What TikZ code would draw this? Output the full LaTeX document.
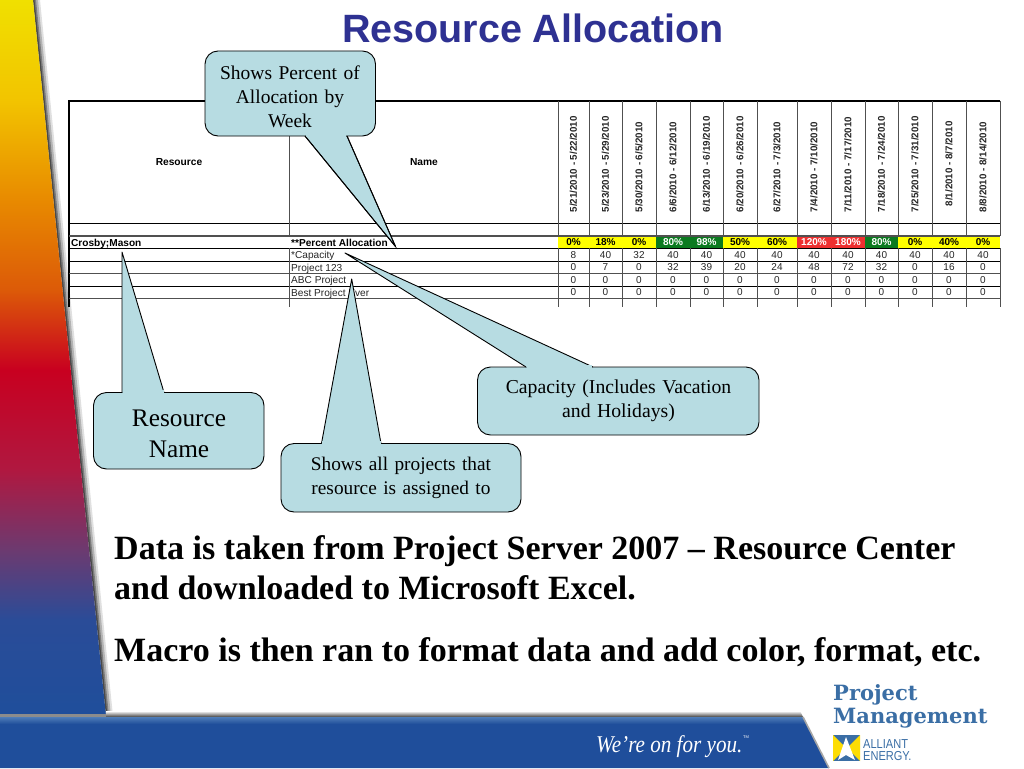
\documentclass[tikz,border=0pt]{standalone}
\usepackage{fontspec}
\setmainfont{Liberation Serif}
\setsansfont{Liberation Sans}
\newfontfamily\logofont{DejaVu Serif}
\usetikzlibrary{calc}
\definecolor{calloutfill}{HTML}{B7DCE2}
\definecolor{titleblue}{HTML}{2E3192}
\definecolor{barblue}{HTML}{1F4E9B}
\definecolor{barlight}{HTML}{4F7DB8}
\definecolor{logoblue}{HTML}{3A6EA5}
\definecolor{cellyellow}{HTML}{FFFF00}
\definecolor{cellgreen}{HTML}{0B7A1F}
\definecolor{cellred}{HTML}{EE3030}
\definecolor{gridgrey}{HTML}{505050}
\definecolor{sa}{HTML}{F0E000}
\definecolor{sb}{HTML}{F2C400}
\definecolor{sc}{HTML}{E88A00}
\definecolor{sd}{HTML}{DC5A08}
\definecolor{se}{HTML}{C80020}
\definecolor{sf}{HTML}{B01840}
\definecolor{sg}{HTML}{6C3A70}
\definecolor{sh}{HTML}{2A4C98}
\tikzset{
  x=1pt,y=-1pt,
  callout/.style={draw=black,fill=calloutfill,line width=0.9pt,line join=round},
  calltext/.style={font=\rmfamily,align=center,text=black,inner sep=0pt},
  hline/.style={draw=black,line width=0.9pt},
  gline/.style={draw=gridgrey,line width=1.1pt},
  vline/.style={draw=gridgrey,line width=0.9pt},
  celltext/.style={font=\sffamily\fontsize{10}{10}\selectfont,text=black!85,inner sep=0pt},
  pcttext/.style={font=\sffamily\bfseries\fontsize{10}{10}\selectfont,inner sep=0pt},
  datetext/.style={font=\sffamily\bfseries\fontsize{9.8}{10}\selectfont,rotate=90,inner sep=0pt,anchor=west,text=black!85},
  headtext/.style={font=\sffamily\bfseries\fontsize{10.2}{10}\selectfont,inner sep=0pt},
  rowhead/.style={font=\sffamily\bfseries\fontsize{10.1}{10}\selectfont,anchor=base west,inner sep=0pt},
  rowtext/.style={font=\sffamily\fontsize{10.1}{10}\selectfont,anchor=base west,inner sep=0pt,text=black!85},
  bodytext/.style={font=\rmfamily\bfseries\fontsize{34}{38}\selectfont,anchor=base west,inner sep=0pt,text=black},
  logotext/.style={font=\logofont\bfseries\fontsize{21}{24}\selectfont,text=logoblue,anchor=base west,inner sep=0pt},
  alliant/.style={font=\sffamily\fontsize{13}{13}\selectfont,text=logoblue,anchor=base west,inner sep=0pt,xscale=.85},
}
\begin{document}
\begin{tikzpicture}
\useasboundingbox (0,0) rectangle (1024,768);
\fill[white] (0,0) rectangle (1024,768);
% left band shadow
\foreach \w/\o in {7/.12,5/.2,3/.3,1.5/.4}{
  \fill[black,opacity=\o] (33,0) -- (33+\w,0) -- (106+\w,716) -- (106,716) -- cycle;}
% left band
\begin{scope}
\clip (0,0) -- (33,0) -- (106,716) -- (0,716) -- cycle;
\shade[top color=sa,bottom color=sb] (0,0) rectangle (110,100);
\shade[top color=sb,bottom color=sc] (0,100) rectangle (110,200);
\shade[top color=sc,bottom color=sd] (0,200) rectangle (110,290);
\shade[top color=sd,bottom color=se] (0,290) rectangle (110,370);
\shade[top color=se,bottom color=sf] (0,370) rectangle (110,470);
\shade[top color=sf,bottom color=sg] (0,470) rectangle (110,550);
\shade[top color=sg,bottom color=sh] (0,550) rectangle (110,620);
\shade[top color=sh,bottom color=barblue] (0,620) rectangle (110,716);
\end{scope}
% bottom band
\shade[top color=white,bottom color=black!75] (106,711) -- (800,711) -- (803,717) -- (106,717) -- cycle;
\fill[black!45] (0,714) rectangle (106,717);
\fill[barblue] (0,717) -- (803,717) -- (829,768) -- (0,768) -- cycle;
\shade[top color=barlight,bottom color=barblue] (0,717) -- (803,717) -- (806,724) -- (0,724) -- cycle;
\draw[black!35,line width=1.6pt] (803,717) -- (829,768);
\node[font=\rmfamily\itshape\fontsize{24}{24}\selectfont,text=white,inner sep=0pt,anchor=base west,xscale=.88] (slogan) at (596,752) {We’re on for you.};
\node[font=\sffamily\fontsize{4}{4}\selectfont,text=white,inner sep=0pt] (tm) at (746,737) {TM};
% logo
\node[logotext] (logoa) at (833,700) {Project};
\node[logotext] (logob) at (833,723) {Management};
\fill[logoblue] (833,735) rectangle (860,761);
\fill[yellow!80!orange] (833,735) -- (846,748) -- (833,761) -- cycle;
\fill[yellow!80!orange] (860,735) -- (847,748) -- (860,761) -- cycle;
\fill[white] (846,737) -- (855,760) -- (846,755) -- (838,760) -- cycle;
\node[alliant] (logoc) at (863,748) {ALLIANT};
\node[alliant] (logod) at (863,760) {ENERGY.};
% title
\node[font=\sffamily\bfseries\fontsize{39.5}{40}\selectfont,text=titleblue,inner sep=0pt] (title) at (533,28) {Resource Allocation};
% table
\fill[cellyellow] (558,236) rectangle (1000,248);
\fill[cellgreen] (656,236) rectangle (723,248);
\fill[cellgreen] (865,236) rectangle (898,248);
\fill[cellred] (797,236) rectangle (865,248);
\draw[black,line width=1.1pt] (69,307) -- (69,101) -- (1000,101);
\foreach \yy in {223,248,261,286}{\draw[hline] (69,\yy) -- (1000,\yy);}
\foreach \yy in {236,273.5,298.5}{\draw[gline] (69,\yy) -- (1000,\yy);}
\foreach \xx in {289,558,589,622,656,690,723,757,797,831,865,898,932,966,1000}{\draw[vline] (\xx,101) -- (\xx,236);\draw[vline] (\xx,248) -- (\xx,307);}
\node[headtext] (hres) at (179,162) {Resource};
\node[headtext] (hname) at (424,162) {Name};
\node[rowhead] (crosby) at (71,246) {Crosby;Mason};
\node[rowhead] (pa) at (291,246) {**Percent Allocation};
\node[rowtext] (r1) at (291,258.5) {*Capacity};
\node[rowtext] (r2) at (291,271) {Project 123};
\node[rowtext] (r3) at (291,283.5) {ABC Project};
\node[rowtext] (r4) at (291,296) {Best Project Ever};
% dates
\node[datetext] (d1) at (573.5,212.5) {5/21/2010 - 5/22/2010};
\node[datetext] (d2) at (605.5,212.5) {5/23/2010 - 5/29/2010};
\node[datetext] (d3) at (639,212.5) {5/30/2010 - 6/5/2010};
\node[datetext] (d4) at (673,212.5) {6/6/2010 - 6/12/2010};
\node[datetext] (d5) at (706.5,212.5) {6/13/2010 - 6/19/2010};
\node[datetext] (d6) at (740,212.5) {6/20/2010 - 6/26/2010};
\node[datetext] (d7) at (777,212.5) {6/27/2010 - 7/3/2010};
\node[datetext] (d8) at (814,212.5) {7/4/2010 - 7/10/2010};
\node[datetext] (d9) at (848,212.5) {7/11/2010 - 7/17/2010};
\node[datetext] (d10) at (881.5,212.5) {7/18/2010 - 7/24/2010};
\node[datetext] (d11) at (915,212.5) {7/25/2010 - 7/31/2010};
\node[datetext] (d12) at (949,206.5) {8/1/2010 - 8/7/2010};
\node[datetext] (d13) at (983,212.5) {8/8/2010 - 8/14/2010};
% pct
\foreach \cx/\lab/\col in {573.5/0\%/black,605.5/18\%/black,639/0\%/black,673/80\%/white,706.5/98\%/white,740/50\%/black,777/60\%/black,814/120\%/white,848/180\%/white,881.5/80\%/white,915/0\%/black,949/40\%/black,983/0\%/black}{
  \node[pcttext,text=\col] at (\cx,242) {\lab};}
\foreach \cx/\a/\b/\c/\d in {573.5/8/0/0/0,605.5/40/7/0/0,639/32/0/0/0,673/40/32/0/0,706.5/40/39/0/0,740/40/20/0/0,777/40/24/0/0,814/40/48/0/0,848/40/72/0/0,881.5/40/32/0/0,915/40/0/0/0,949/40/16/0/0,983/40/0/0/0}{
  \node[celltext] at (\cx,255) {\a};
  \node[celltext] at (\cx,267.5) {\b};
  \node[celltext] at (\cx,280) {\c};
  \node[celltext] at (\cx,292.5) {\d};}
% callouts
\path[callout] (305,136) -- (395.5,246.5) -- (347,136);
\path[callout,rounded corners=13pt] (205,51) rectangle (375.5,136);
\fill[calloutfill] (306.2,133) rectangle (345.8,137);
\draw[black,line width=.9pt] (305,136) -- (395.5,246.5) -- (347,136);
\node[calltext,font=\rmfamily\fontsize{19.5}{24}\selectfont,text width=170pt] (ca) at (290,97) {Shows Percent of\\Allocation by\\Week};
\path[callout,rounded corners=13pt] (93.5,392.5) rectangle (264,469);
\path[callout] (122,392.5) -- (122,252) -- (164,392.5);
\fill[calloutfill] (122.5,390) rectangle (163.5,394);
\node[calltext,font=\rmfamily\fontsize{25.3}{30.5}\selectfont,text width=170pt] (cb) at (179,434) {Resource\\Name};
\path[callout,rounded corners=13pt] (281,443.5) rectangle (521,512);
\path[callout] (321.5,443.5) -- (351.7,279) -- (381,443.5);
\fill[calloutfill] (322,441) rectangle (380.5,445);
\node[calltext,font=\rmfamily\fontsize{19.3}{24}\selectfont,text width=240pt] (cc) at (401,477.5) {Shows all projects that\\resource is assigned to};
\path[callout,rounded corners=13pt] (477.5,367) rectangle (759,435);
\path[callout] (526,367) -- (345,253) -- (593,367);
\fill[calloutfill] (527,364.5) rectangle (592,368.5);
\node[calltext,font=\rmfamily\fontsize{19.7}{24}\selectfont,text width=281pt] (cd) at (618.5,401) {Capacity (Includes Vacation\\and Holidays)};
% body
\node[bodytext] (t1) at (114,559) {Data is taken from Project Server 2007 – Resource Center};
\node[bodytext] (t2) at (114,599) {and downloaded to Microsoft Excel.};
\node[bodytext] (t3) at (114,661) {Macro is then ran to format data and add color, format, etc.};
\end{tikzpicture}
\end{document}
